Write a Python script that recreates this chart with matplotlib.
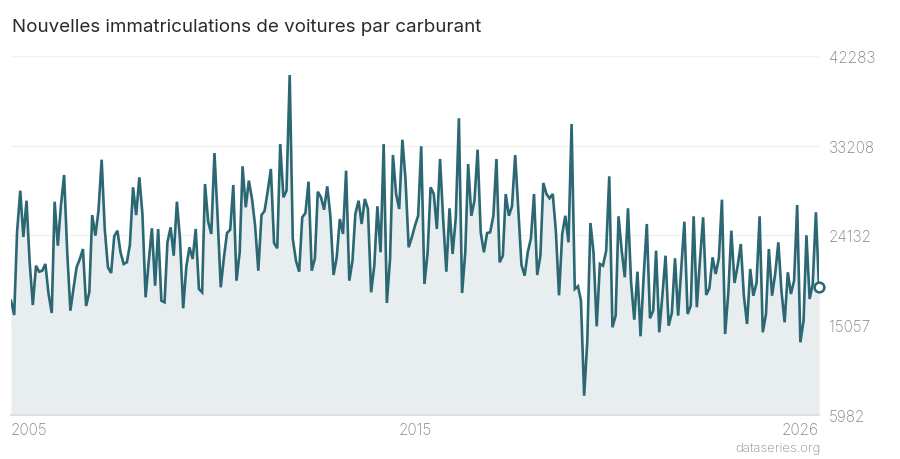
import pandas as pd
import matplotlib
matplotlib.use("Agg")
import matplotlib.pyplot as plt

plt.rcParams['font.family'] = ['Inter', 'DejaVu Sans']

# monthly registrations
values = [
    17512, 16065, 24470, 28647, 23960, 27636, 21430, 17077, 21055, 20448,
    20549, 21228, 18190, 16267, 27534, 23080, 27130, 30237, 22500, 16500,
    18798, 20924, 21734, 22745, 16976, 18393, 26176, 24093, 26624, 31786,
    24771, 20893, 20315, 24032, 24600, 22412, 21228, 21400, 23151, 28990,
    26176, 30002, 26290, 17854, 21562, 24842, 19030, 24771, 17512, 17350,
    23420, 24943, 22068, 27534, 23758, 16743, 20995, 22918, 21734, 24771,
    18696, 18362, 29325, 25510, 24265, 32462, 26110, 18866, 21905, 24366,
    24700, 29224, 19537, 22412, 31120, 26967, 29663, 27808, 25106, 20549,
    26176, 26612, 28647, 30846, 23353, 22817, 33375, 27980, 28647, 40360,
    23758, 21562, 20448, 25955, 26390, 29561, 20549, 21806, 28546, 27980,
    26725, 29090, 26110, 20114, 21905, 25780, 24265, 30677, 19537, 21562,
    26290, 27636, 25277, 27808, 26796, 18362, 21055, 27069, 22412, 33375,
    17279, 21734, 32259, 28316, 26796, 33813, 29831, 22918, 23930, 25106,
    26110, 33141, 19203, 22341, 28990, 28316, 24771, 31856, 25780, 20448,
    26866, 22240, 25955, 35977, 18292, 22412, 31350, 26110, 27636, 32800,
    24437, 22412, 24366, 24437, 26110, 31856, 21400, 22068, 28316, 26110,
    27069, 32259, 26796, 21127, 20043, 22412, 23829, 28316, 20114, 22068,
    29426, 28316, 27879, 28316, 24600, 18055, 24265, 26110, 23420, 35400,
    18696, 18970, 17512, 7895, 13301, 25378, 22412, 14921, 21228, 21055,
    22573, 30103, 14819, 16000, 26056, 22573, 19881, 26866, 19375, 15589,
    20448, 13908, 20114, 25277, 15731, 16500, 22573, 14313, 18017, 22068,
    14980, 16267, 21806, 15994, 20893, 25510, 16166, 17006, 26056, 16844,
    21562, 25955, 18089, 18767, 21905, 20215, 21806, 27737, 14141, 18362,
    24600, 19304, 20995, 23252, 18017, 15153, 20721, 18017, 19304, 26056,
    14313, 16166, 22745, 18017, 20215, 23420, 18524, 15326, 20388, 18190,
    19537, 27200, 13301, 15488, 24132, 17684, 19203, 26460, 18866,
]
dates = pd.date_range('2005-01-01', periods=len(values), freq='MS')

y_ticks = [5982, 15057, 24132, 33208, 42283]
x_labels = ['2005', '2015', '2026']

line_col = '#2b6873'
fill_col = '#e8eef0'

fig = plt.figure(figsize=(9, 4.6), dpi=100)
ax = fig.add_axes([11 / 900, 1 - 415.6 / 460, 808 / 900, (415.6 - 57) / 460])

ax.fill_between(dates, values, y_ticks[0], color=fill_col, lw=0, zorder=1)
ax.plot(dates, values, color=line_col, lw=1.9, solid_joinstyle='miter', zorder=3)
ax.plot(dates[-1], values[-1], 'o', ms=7, mfc='white', mec=line_col, mew=1.8,
        clip_on=False, zorder=4)

ax.set_xlim(dates[0], dates[-1])
ax.set_ylim(y_ticks[0], y_ticks[-1])

# grid
for v in y_ticks[1:]:
    ax.axhline(v, color='#f0f0f0', lw=1, zorder=0)
ax.axhline(y_ticks[0], color='#dcdcdc', lw=1.2, zorder=2, clip_on=False)

for s in ax.spines.values():
    s.set_visible(False)

ax.yaxis.tick_right()
ax.set_yticks(y_ticks)
ax.set_yticklabels([str(v) for v in y_ticks])
ax.tick_params(axis='y', length=0, pad=7, labelsize=11, labelcolor='#858585')

ax.set_xticks([dates[0], dates[len(dates) // 2], dates[-1]])
ax.set_xticklabels(x_labels)
ax.tick_params(axis='x', length=0, pad=5, labelsize=11, labelcolor='#858585')
for lab, ha in zip(ax.get_xticklabels(), ['left', 'center', 'right']):
    lab.set_horizontalalignment(ha)
for lab in ax.get_xticklabels() + ax.get_yticklabels():
    lab.set_fontweight('light')

fig.text(12 / 900, 1 - 28 / 460, 'Nouvelles immatriculations de voitures par carburant',
         va='center', ha='left', fontsize=13.5, color='#2a2a2a')
fig.text(821 / 900, 1 - 449 / 460, 'dataseries.org', va='center', ha='right',
         fontsize=9.5, color='#8a8a8a', fontweight='light')

fig.savefig('out.png', dpi=100)
